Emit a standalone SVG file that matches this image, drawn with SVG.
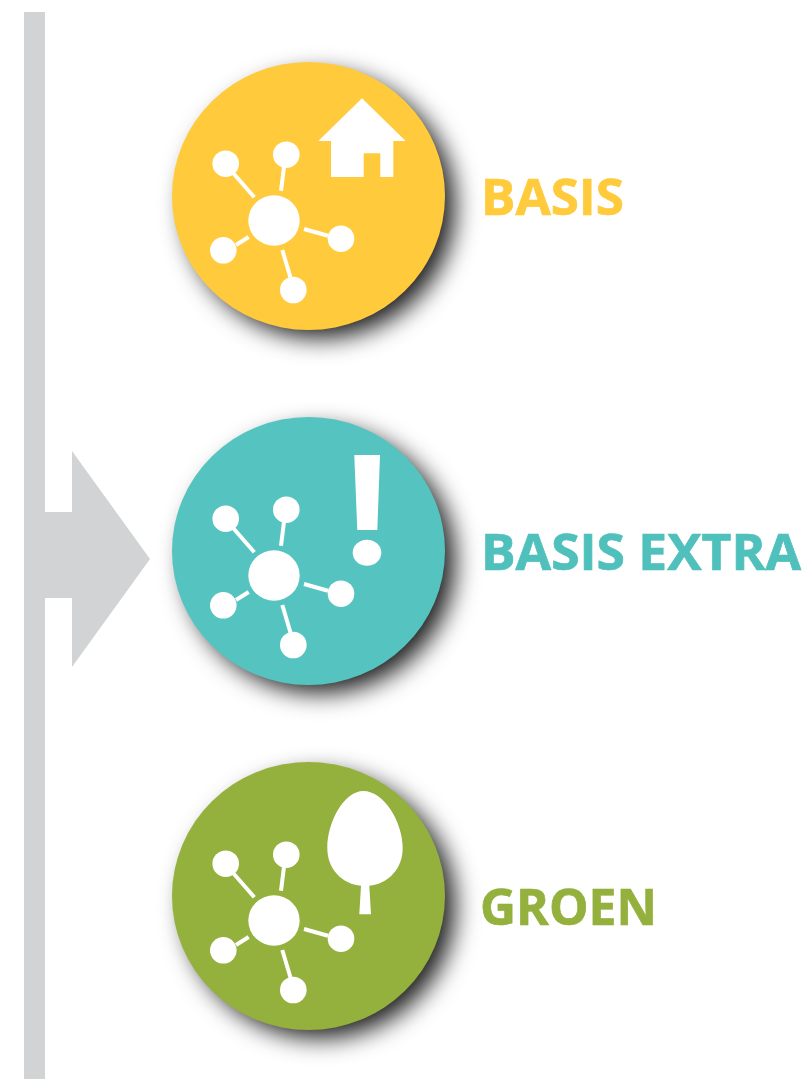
<svg xmlns="http://www.w3.org/2000/svg" width="804" height="1079" viewBox="0 0 804 1079">
<style>
.net line{stroke:#fff;stroke-width:4}
.net circle{fill:#fff}
.lbl{font-family:"Open Sans","Noto Sans",sans-serif;font-weight:700;font-size:51px;stroke-width:0.7px}
.ic{fill:#fff}
.shadow{fill:#1c1c1c;filter:url(#sh)}
</style>
<defs>
<filter id="sh" x="-25%" y="-25%" width="150%" height="150%" color-interpolation-filters="sRGB"><feGaussianBlur stdDeviation="12"/></filter>
<g id="net" class="net">
<line x1="233.300" y1="173.300" x2="254.300" y2="197.300"/><line x1="284" y1="166.700" x2="281" y2="190.700"/><line x1="304" y1="229" x2="328" y2="235.700"/><line x1="282.300" y1="250" x2="290.700" y2="278.300"/><line x1="236" y1="245" x2="248.700" y2="237"/>
<ellipse cx="274" cy="220.500" rx="25.700" ry="25.200" fill="#fff"/><circle cx="225.700" cy="163.700" r="13.300"/><circle cx="286.300" cy="154.700" r="13.300"/><circle cx="341" cy="238.700" r="13.300"/><circle cx="293.300" cy="290" r="13.300"/><circle cx="223.300" cy="250.300" r="13.300"/>
</g>
</defs>
<g id="bar" fill="#d1d3d4"><rect x="24" y="12" width="21" height="1067"/><polygon points="45,512 72,512 72,451 150,559 72,667 72,598 45,598"/></g>
<g id="basis">
<ellipse class="shadow" cx="320" cy="206" rx="135" ry="132"/>
<ellipse cx="308.500" cy="196" rx="136.500" ry="134" fill="#ffca3b"/>
<use href="#net"/>
<path class="ic" d="M362 98.300L405.700 141H393.300V177H380.300V153.300H363.700V177H331V141H318.300Z"/>
<text class="lbl" x="481" y="215" fill="#ffca3b" stroke="#ffca3b" textLength="143" lengthAdjust="spacingAndGlyphs">BASIS</text>
</g>
<g id="basis-extra">
<ellipse class="shadow" cx="320" cy="561" rx="135" ry="132"/>
<ellipse cx="308.500" cy="551" rx="136.500" ry="134" fill="#55c4c0"/>
<use href="#net" y="355"/>
<path class="ic" d="M354.300 455H380L377.300 530H357.300Z"/><ellipse class="ic" cx="367" cy="552.700" rx="14.300" ry="13"/>
<text class="lbl" x="481" y="570" fill="#4fc0bb" stroke="#4fc0bb" textLength="320" lengthAdjust="spacingAndGlyphs">BASIS EXTRA</text>
</g>
<g id="groen">
<ellipse class="shadow" cx="320" cy="906" rx="135" ry="132"/>
<ellipse cx="308.500" cy="896" rx="136.500" ry="134" fill="#94b03d"/>
<use href="#net" y="700"/>
<path class="ic" d="M363.300 791C384 791 402.700 822 402.700 848C402.700 869 388 884 369.300 885.700L371 914.300H359.300L361 885.700C342 884 327.300 869 327.300 848C327.300 822 344 791 363.300 791Z"/>
<text class="lbl" x="480" y="925" fill="#94b03d" stroke="#94b03d" textLength="177" lengthAdjust="spacingAndGlyphs">GROEN</text>
</g>
</svg>
